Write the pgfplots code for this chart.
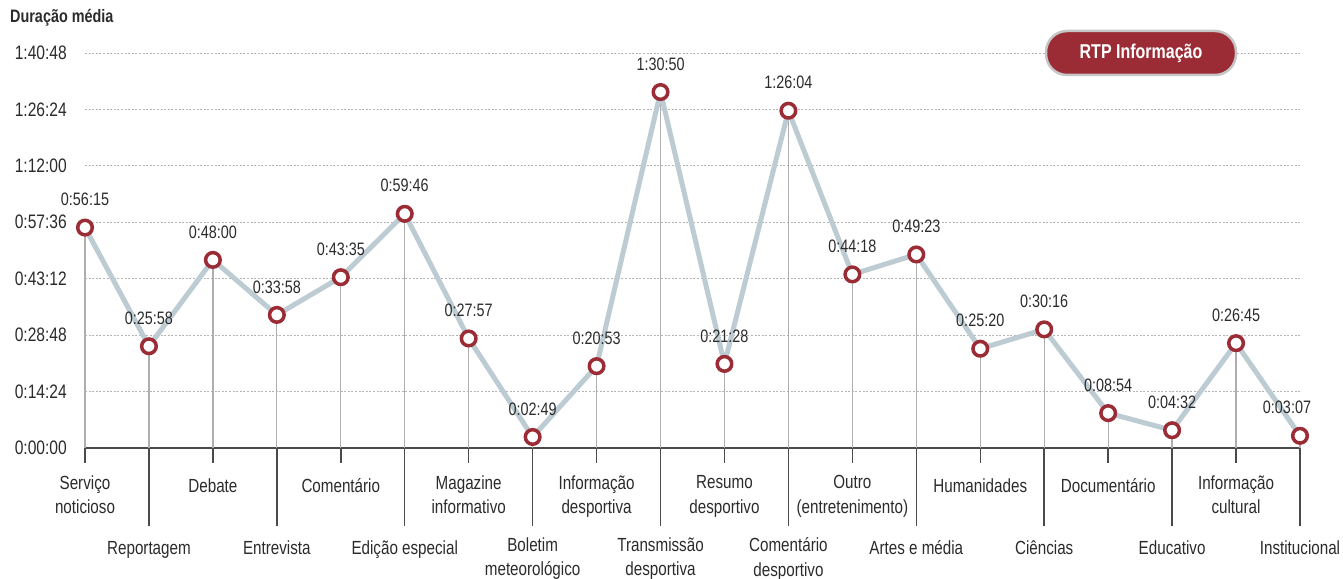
\documentclass[border=0pt]{standalone}
\usepackage{pgfplots}
\usepackage{pgfplotstable}
\pgfplotsset{compat=1.18}
\usepackage{fontspec}
% narrow grotesque: Arial metrics squeezed horizontally
\setmainfont{Liberation Sans}[FakeStretch=0.80]

\definecolor{rtpred}{HTML}{9B2B34}
\definecolor{linegray}{HTML}{BDCBD3}
\definecolor{txt}{HTML}{2B2B2B}
\definecolor{dropgray}{HTML}{AEAEAE}
\definecolor{axisgray}{HTML}{4A4A4A}
\definecolor{gridgray}{HTML}{B4B4B4}

% average duration per programme genre, in seconds
\pgfplotstableread{
x sec  lab
0  3375 0:56:15
1  1558 0:25:58
2  2880 0:48:00
3  2038 0:33:58
4  2615 0:43:35
5  3586 0:59:46
6  1677 0:27:57
7  169  0:02:49
8  1253 0:20:53
9  5450 1:30:50
10 1288 0:21:28
11 5164 1:26:04
12 2658 0:44:18
13 2963 0:49:23
14 1520 0:25:20
15 1816 0:30:16
16 534  0:08:54
17 272  0:04:32
18 1605 0:26:45
19 187  0:03:07
}\durtable

% leader lines below the axis (short for the upper label row, long for the lower one)
\pgfplotstableread{
x depth
0  -230
1  -1194
2  -230
3  -1194
4  -230
5  -1194
6  -230
7  -1194
8  -230
9  -1194
10 -230
11 -1194
12 -230
13 -1194
14 -230
15 -1194
16 -230
17 -1194
18 -230
19 -1194
}\leadtable

\begin{document}
\begin{tikzpicture}[x=1pt,y=1pt]
\useasboundingbox (0,0) rectangle (1343,578);
\begin{axis}[
  at={(85pt,130pt)}, anchor=south west,
  scale only axis, width=1215pt, height=395pt,
  xmin=0, xmax=19, ymin=0, ymax=6048,
  clip=false,
  axis x line*=bottom, axis y line*=left,
  y axis line style={draw=none},
  x axis line style={-, axisgray, line width=1.8pt},
  major tick length=0pt,
  ytick={0,864,1728,2592,3456,4320,5184,6048},
  yticklabels={\textnormal{0:00:00},\textnormal{0:14:24},\textnormal{0:28:48},
    \textnormal{0:43:12},\textnormal{0:57:36},\textnormal{1:12:00},
    \textnormal{1:26:24},\textnormal{1:40:48}},
  yticklabel style={anchor=east, inner sep=0pt, xshift=-18pt,
    font=\fontsize{19.5}{22}\selectfont, text=txt},
  ymajorgrids,
  major grid style={gridgray, line width=0.9pt, dash pattern=on 2pt off 1.6pt},
  xtick={0,2,...,18},
  xticklabels={{Serviço\\noticioso},Debate,Comentário,{Magazine\\informativo},
    {Informação\\desportiva},{Resumo\\desportivo},{Outro\\(entretenimento)},
    Humanidades,Documentário,{Informação\\cultural}},
  extra x ticks={1,3,...,19},
  extra x tick labels={Reportagem,Entrevista,{Edição especial},{Boletim\\meteorológico},
    {Transmissão\\desportiva},{Comentário\\desportivo},{Artes e média},Ciências,
    Educativo,Institucional},
  xticklabel style={anchor=north, inner sep=0pt, yshift=-27.5pt, align=center,
    font=\fontsize{19}{24.5}\selectfont, text=txt, execute at begin node={\strut}},
  extra x tick style={xticklabel style={yshift=-62pt}},
]
% drop lines from each point to the axis
\addplot[ycomb, dropgray, line width=1.3pt, mark=none] table[x=x, y=sec]{\durtable};
% leader lines to the category names
\addplot[ycomb, axisgray, line width=1.5pt, mark=none] table[x=x, y=depth]{\leadtable};
% average duration line
\addplot[linegray, line width=5pt, line join=round,
  mark=*, mark size=7.3pt,
  mark options={draw=rtpred, fill=white, line width=3.5pt},
  point meta=explicit symbolic,
  nodes near coords,
  nodes near coords style={anchor=center, yshift=28pt, text=txt,
    font=\fontsize{18}{20}\selectfont},
  coordinate style/.condition={x==19}{xshift=-13pt},
] table[x=x, y=sec, meta=lab]{\durtable};
\end{axis}
\node[anchor=west, inner sep=0pt, text=txt, font=\bfseries\fontsize{18}{20}\selectfont]
  at (10,560) {Duração média};
\node[fill=rtpred, draw=gray!45, line width=2.5pt, rounded corners=21pt,
  minimum width=190pt, minimum height=44pt, text=white,
  font=\bfseries\fontsize{20}{22}\selectfont] at (1141,525) {RTP Informação};
\end{tikzpicture}
\end{document}
